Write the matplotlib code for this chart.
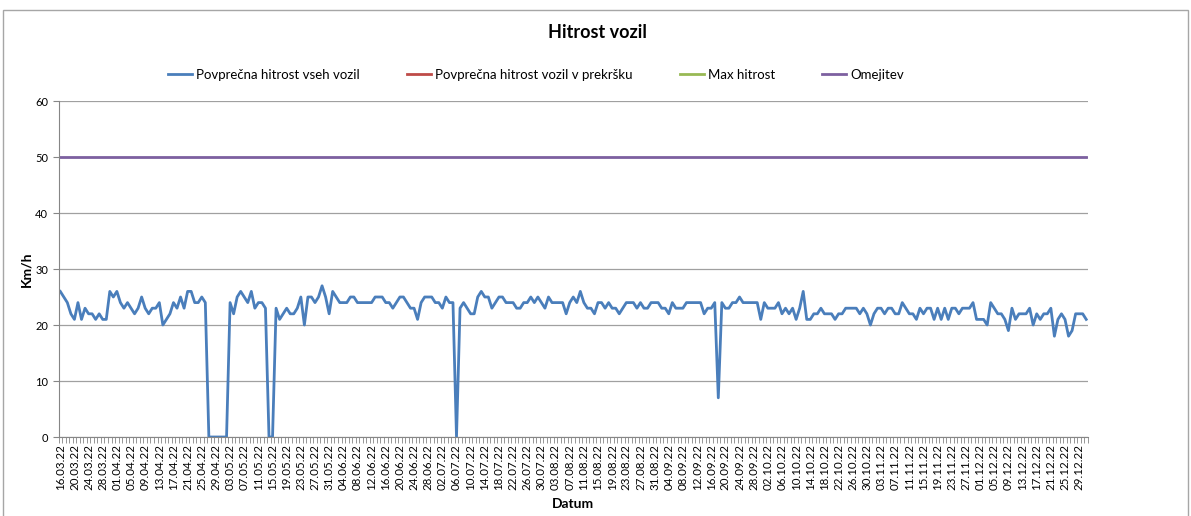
import matplotlib
matplotlib.use("Agg")
import matplotlib.pyplot as plt
import matplotlib.patches as patches
import numpy as np
import pandas as pd

plt.rcParams['font.family'] = ['Lato', 'DejaVu Sans']

# categories: one per day
dates = pd.date_range('2022-03-16', '2022-12-31', freq='D')
date_labels = [d.strftime('%d.%m.%y') for d in dates]

# average speed of all vehicles (km/h)
avg_speed = [
    26, 25, 24, 22, 21, 24, 21, 23, 22, 22, 21, 22, 21, 21, 26, 25, 26, 24, 23, 24,
    23, 22, 23, 25, 23, 22, 23, 23, 24, 20, 21, 22, 24, 23, 25, 23, 26, 26, 24, 24,
    25, 24, 0, 0, 0, 0, 0, 0, 24, 22, 25, 26, 25, 24, 26, 23, 24, 24, 23, 0,
    0, 23, 21, 22, 23, 22, 22, 23, 25, 20, 25, 25, 24, 25, 27, 25, 22, 26, 25, 24,
    24, 24, 25, 25, 24, 24, 24, 24, 24, 25, 25, 25, 24, 24, 23, 24, 25, 25, 24, 23,
    23, 21, 24, 25, 25, 25, 24, 24, 23, 25, 24, 24, 0, 23, 24, 23, 22, 22, 25, 26,
    25, 25, 23, 24, 25, 25, 24, 24, 24, 23, 23, 24, 24, 25, 24, 25, 24, 23, 25, 24,
    24, 24, 24, 22, 24, 25, 24, 26, 24, 23, 23, 22, 24, 24, 23, 24, 23, 23, 22, 23,
    24, 24, 24, 23, 24, 23, 23, 24, 24, 24, 23, 23, 22, 24, 23, 23, 23, 24, 24, 24,
    24, 24, 22, 23, 23, 24, 7, 24, 23, 23, 24, 24, 25, 24, 24, 24, 24, 24, 21, 24,
    23, 23, 23, 24, 22, 23, 22, 23, 21, 23, 26, 21, 21, 22, 22, 23, 22, 22, 22, 21,
    22, 22, 23, 23, 23, 23, 22, 23, 22, 20, 22, 23, 23, 22, 23, 23, 22, 22, 24, 23,
    22, 22, 21, 23, 22, 23, 23, 21, 23, 21, 23, 21, 23, 23, 22, 23, 23, 23, 24, 21,
    21, 21, 20, 24, 23, 22, 22, 21, 19, 23, 21, 22, 22, 22, 23, 20, 22, 21, 22, 22,
    23, 18, 21, 22, 21, 18, 19, 22, 22, 22, 21,
]
offence_speed = []   # empty series in the source
max_speed = []       # empty series in the source
limit = [50] * len(dates)

x = np.arange(len(dates))

fig = plt.figure(figsize=(11.91, 5.16), dpi=100)
fig.patches.append(patches.Rectangle((3 / 1191, -0.01), 1185 / 1191, 1 - 10 / 516 + 0.01,
                                     transform=fig.transFigure, fill=False,
                                     edgecolor='#a6a6a6', linewidth=1))
ax = fig.add_axes([58.5 / 1191, 1 - 437 / 516, (1088 - 58.5) / 1191, 336 / 516])

ax.plot(x, avg_speed, color='#4a7ebb', linewidth=2.0, label='Povprečna hitrost vseh vozil')
ax.plot(x[:len(offence_speed)], offence_speed, color='#be4b48', linewidth=2.0,
        label='Povprečna hitrost vozil v prekršku')
ax.plot(x[:len(max_speed)], max_speed, color='#98b954', linewidth=2.0, label='Max hitrost')
ax.plot(x, limit, color='#7d60a0', linewidth=2.0, label='Omejitev')

ax.set_xlim(-0.5, len(dates) - 0.5)
ax.set_ylim(0, 60)
ax.set_yticks(range(0, 61, 10))
ax.yaxis.grid(True, color='#a0a0a0', linewidth=0.9)
ax.set_axisbelow(True)

ax.set_xticks(x[::4])
ax.set_xticklabels(date_labels[::4], rotation=90, fontsize=8.3)
ax.set_xticks(np.arange(-0.5, len(dates), 1), minor=True)
ax.tick_params(axis='x', which='major', length=0, pad=5)
ax.tick_params(axis='x', which='minor', length=4, color='#868686', width=0.6)
ax.tick_params(axis='y', length=4, color='#868686', labelsize=8)

for s in ['top', 'right']:
    ax.spines[s].set_visible(False)
for s in ['left', 'bottom']:
    ax.spines[s].set_color('#868686')

ax.set_ylabel('Km/h', fontsize=10, fontweight='bold', labelpad=2)
ax.set_xlabel('Datum', fontsize=10, fontweight='bold', labelpad=6)

fig.text(0.502, 1 - 32 / 516, 'Hitrost vozil', ha='center', va='center',
         fontsize=13, fontweight='bold')
fig.legend(loc='center', bbox_to_anchor=(536 / 1191, 1 - 75 / 516), ncol=4,
           frameon=False, fontsize=9.5, handlelength=1.8, handletextpad=0.3,
           columnspacing=3.6)

fig.savefig('out.png', dpi=100)
